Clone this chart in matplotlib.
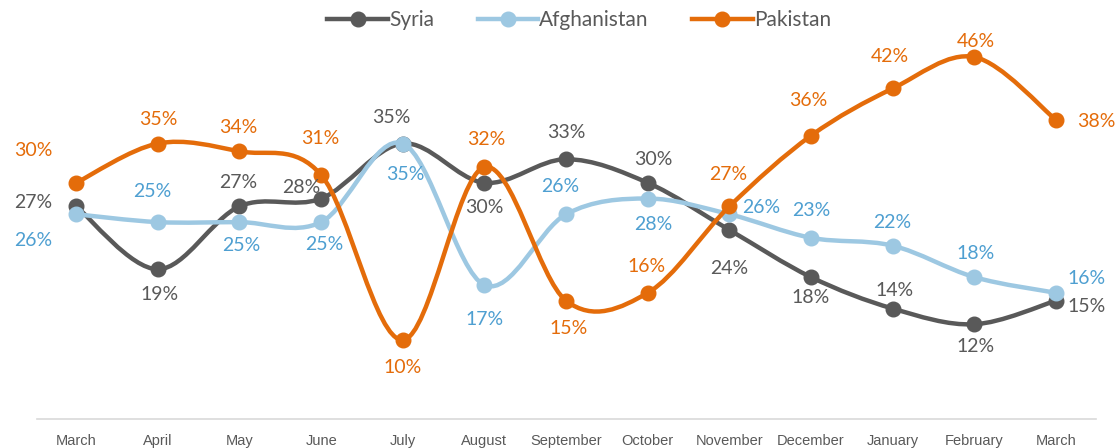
import matplotlib
matplotlib.use("Agg")
import matplotlib.pyplot as plt
from matplotlib.path import Path
from matplotlib.patches import PathPatch
from matplotlib.lines import Line2D

# ─── Data ────────────────────────────────────────
months = ["March", "April", "May", "June", "July", "August", "September",
          "October", "November", "December", "January", "February", "March"]
syria = [27, 19, 27, 28, 35, 30, 33, 30, 24, 18, 14, 12, 15]
afghanistan = [26, 25, 25, 25, 35, 17, 26, 28, 26, 23, 22, 18, 16]
pakistan = [30, 35, 34, 31, 10, 32, 15, 16, 27, 36, 42, 46, 38]

# label offsets in points (dx, dy) — layout only
syria_off = [(-31, 3), (1, -18), (-1, 17), (-14, 8), (-8, 19), (0, -18), (0, 19),
             (4, 17), (0, -28), (0, -15), (1, 13), (1, -16), (22, -4)]
afgh_off = [(-31, -19), (-4, 22), (1, -17), (2, -16), (2, -22), (0, -25), (-4, 20),
            (4, -19), (23, 5), (0, 20), (0, 17), (1, 17), (22, 10)]
pak_off = [(-31, 23), (0, 17), (-1, 17), (-1, 26), (0, -20), (1, 20), (2, -20),
           (-1, 19), (-1, 23), (-2, 25), (-2, 23), (1, 11), (29, -1)]

SERIES = [
    ("Syria", syria, syria_off, "#595959", "#595959"),
    ("Afghanistan", afghanistan, afgh_off, "#9DC8E2", "#4E9FD1"),
    ("Pakistan", pakistan, pak_off, "#E46C0A", "#E46C0A"),
]


def smooth_path(xs, ys):
    """Catmull-Rom style bezier path through the points (Excel smoothing)."""
    pts = list(zip(xs, ys))
    n = len(pts)
    verts = [pts[0]]
    codes = [Path.MOVETO]
    for i in range(n - 1):
        p0 = pts[max(i - 1, 0)]
        p1 = pts[i]
        p2 = pts[i + 1]
        p3 = pts[min(i + 2, n - 1)]
        c1 = (p1[0] + (p2[0] - p0[0]) / 6, p1[1] + (p2[1] - p0[1]) / 6)
        c2 = (p2[0] - (p3[0] - p1[0]) / 6, p2[1] - (p3[1] - p1[1]) / 6)
        verts += [c1, c2, p2]
        codes += [Path.CURVE4] * 3
    return Path(verts, codes)


fig = plt.figure(figsize=(11.18, 4.48), dpi=100)
ax = fig.add_axes([37 / 1118, 1 - 418.6 / 448, 1059 / 1118, 393 / 448])
x = list(range(len(months)))

handles = []
for z, (name, vals, offs, col, lcol) in enumerate(SERIES):
    ax.add_patch(PathPatch(smooth_path(x, vals), fill=False, edgecolor=col,
                           lw=3.2, capstyle="round", joinstyle="round", zorder=2 + z))
    ax.plot(x, vals, ls="none", marker="o", ms=10.5, color=col, zorder=2 + z)
    for xi, v, (dx, dy) in zip(x, vals, offs):
        ax.annotate(f"{v}%", (xi, v), xytext=(dx, dy), textcoords="offset points",
                    ha="center", va="center", fontsize=14, color=lcol,
                    family="Lato", zorder=10)
    handles.append(Line2D([], [], color=col, lw=3.2, marker="o", ms=10.5, label=name))

ax.set_xlim(-0.48, 12.49)
ax.set_ylim(0, 50)
ax.set_xticks(x)
ax.set_xticklabels(months, fontsize=10.5, color="#595959", family="Liberation Sans")
ax.tick_params(axis="x", length=0, pad=11)
ax.set_yticks([])
for s in ["top", "right", "left"]:
    ax.spines[s].set_visible(False)
ax.spines["bottom"].set_color("#D9D9D9")
ax.spines["bottom"].set_linewidth(1.2)

leg = fig.legend(handles=handles, loc="center", bbox_to_anchor=(0.518, 0.955), ncol=3,
                 frameon=False, handlelength=2.9, columnspacing=2.1, handletextpad=0.05,
                 prop={"family": "Lato", "size": 15})
for t in leg.get_texts():
    t.set_color("#595959")

fig.savefig("out.png", dpi=100)
